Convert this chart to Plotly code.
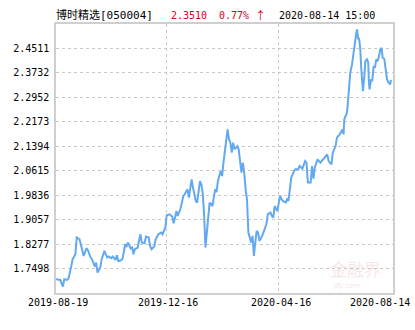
import plotly.graph_objects as go

# ---- data ----
day_idx = [0, 3, 5, 6, 8, 9, 11, 12, 14, 15, 17, 18, 19, 20, 22, 23, 25, 26, 28, 29, 30, 32, 33, 35, 37, 38, 40, 41,
           43, 44, 45, 46, 48, 49, 50, 51, 52, 54, 55, 56, 57, 59, 61, 62, 64, 65, 67, 68, 69, 71, 72, 74, 76, 77,
           79, 80, 82, 84, 85, 86, 87, 88, 90, 91, 92, 93, 95, 96, 97, 98, 99, 101, 102, 103, 104, 105, 106, 107,
           108, 109, 110, 111, 113, 114, 115, 116, 117, 119, 120, 121, 122, 123, 124, 125, 126, 127, 128, 129, 130,
           131, 132, 133, 134, 135, 136, 137, 138, 139, 140, 141, 142, 143, 144, 145, 146, 147, 149, 151, 152, 153,
           155, 156, 157, 158, 160, 161, 162, 163, 164, 166, 167, 168, 169, 170, 172, 173, 175, 176, 178, 180, 181,
           182, 184, 185, 186, 187, 189, 191, 193, 195, 196, 197, 198, 199, 200, 202, 203, 204, 205, 207, 207.8,
           208.3, 209.2, 210.2, 210.7, 211.4, 212.1, 212.6, 213.9, 214.6, 215.6, 216.2, 217.0, 217.5, 217.9, 218.4,
           218.9, 219.8, 220.6, 221.1, 221.8, 222.8, 223.5, 224.7, 225.6, 226.1, 226.6, 227.6, 228.5, 229.5, 230.5,
           231.4, 232.4, 233.4, 234.3, 235.3, 236.0, 237.2, 238.1, 239.2, 240.3, 241.5, 242.0]
nav = [1.7158, 1.7136, 1.6926, 1.7158, 1.7136, 1.7180, 1.7562, 1.7795, 1.7954, 1.8486, 1.8431, 1.8272, 1.8059,
       1.7900, 1.8145, 1.8091, 1.7849, 1.7795, 1.7562, 1.7690, 1.7371, 1.7531, 1.7795, 1.8059, 1.7849, 1.7881,
       1.7827, 1.7881, 1.7773, 1.7922, 1.7741, 1.7741, 1.7795, 1.8059, 1.8272, 1.8218, 1.8326, 1.8135, 1.8167,
       1.7954, 1.8113, 1.8167, 1.8591, 1.8326, 1.8304, 1.8517, 1.8486, 1.8218, 1.8113, 1.8199, 1.8431, 1.8591,
       1.8645, 1.8591, 1.8804, 1.9195, 1.9227, 1.9154, 1.8941, 1.9122, 1.9332, 1.9173, 1.9409, 1.9600, 1.9810,
       1.9864, 2.0023, 1.9759, 2.0150, 2.0341, 2.0077, 1.9651, 1.9600, 2.0023, 2.0287, 2.0182, 1.9918, 1.9227,
       1.8167, 1.8645, 1.9227, 1.9600, 1.9491, 1.9705, 2.0023, 1.9937, 2.0287, 2.0605, 2.0446, 2.0873, 2.1191,
       2.1455, 2.1933, 2.1614, 2.1509, 2.1191, 2.1509, 2.1296, 2.1350, 2.1401, 2.1296, 2.0924, 2.0554, 2.0873,
       2.0554, 2.0023, 1.9705, 1.8645, 1.8431, 1.8326, 1.8537, 1.7900, 1.8326, 1.8696, 1.8645, 1.8377, 1.8537,
       1.8804, 1.8909, 1.9227, 1.9281, 1.9173, 1.9122, 1.9491, 1.9332, 1.9600, 1.9810, 1.9705, 1.9651, 1.9600,
       1.9705, 1.9651, 2.0023, 2.0395, 2.0605, 2.0660, 2.0660, 2.0765, 2.0682, 2.0924, 2.0873, 2.0236, 2.0236,
       2.0765, 2.0364, 2.0714, 2.0978, 2.0873, 2.0978, 2.1083, 2.1137, 2.0924, 2.0873, 2.0819, 2.1191, 2.1401,
       2.1669, 2.1719, 2.1774, 2.1933, 2.1774, 2.2251, 2.2356, 2.2464, 2.2674, 2.2993, 2.3419, 2.3738, 2.4002,
       2.4266, 2.4638, 2.4903, 2.5011, 2.5116, 2.4957, 2.4798, 2.4852, 2.4533, 2.3843, 2.3419, 2.3152, 2.3629,
       2.4107, 2.4161, 2.4056, 2.3419, 2.3206, 2.3524, 2.3470, 2.3948, 2.3897, 2.4161, 2.4107, 2.4266, 2.4479,
       2.4533, 2.4215, 2.4183, 2.3843, 2.3524, 2.3419, 2.3365, 2.3510]

y_ticks = [1.7498, 1.8277, 1.9057, 1.9836, 2.0615, 2.1394, 2.2173, 2.2952, 2.3732, 2.4511]
y_range = [1.6719, 2.5290]
x_tick_pos = [0, 79.6, 160.8, 243.5]
x_tick_labels = ["2019-08-19", "2019-12-16", "2020-04-16", "2020-08-14"]
x_range = [0, 243.5]

fund_name = "博时精选[050004]"
last_nav = "2.3510"
change = "0.77%"
arrow = "↑"
timestamp = "2020-08-14 15:00"

FONT = "DejaVu Sans Mono, Noto Sans CJK SC, monospace"
GRID = "#c8c8c8"
RED = "#d0021b"

fig = go.Figure()
fig.add_trace(go.Scatter(x=day_idx, y=nav, mode="lines",
                         line=dict(color="#62a9f1", width=2), hoverinfo="skip"))

W, H = 415, 330
L, R, T, B = 56, 22, 24, 37
pw, ph = W - L - R, H - T - B

fig.update_layout(
    width=W, height=H, margin=dict(l=L, r=R, t=T, b=B),
    paper_bgcolor="white", plot_bgcolor="white", showlegend=False,
    font=dict(family=FONT, size=10, color="#000"),
    xaxis=dict(range=x_range, tickvals=x_tick_pos, showticklabels=False, ticks="",
               showgrid=True, gridcolor=GRID, griddash="3px,3px", gridwidth=1,
               showline=True, mirror=True, linecolor="#cfcfcf", linewidth=1.5, zeroline=False),
    yaxis=dict(range=y_range, tickvals=y_ticks, ticktext=[f"{v:.4f}" for v in y_ticks],
               ticks="", showgrid=True, gridcolor=GRID, griddash="3px,3px", gridwidth=1,
               showline=True, mirror=True, linecolor="#cfcfcf", linewidth=1.5, zeroline=False,
               tickfont=dict(family=FONT, size=10, color="#000"), ticklabelstandoff=3),
)

def px_to_paper_x(p):
    return (p - L) / pw

def px_to_paper_y(p):
    return 1 - (p - T) / ph

def label(text, px, py, size=10, color="#000", family=FONT, anchor="left"):
    return dict(text=text, x=px_to_paper_x(px), y=px_to_paper_y(py), xref="paper", yref="paper",
                xanchor=anchor, yanchor="middle", showarrow=False,
                font=dict(family=family, size=size, color=color))

ann = [
    label(fund_name, 54, 15.7, size=11),
    label(last_nav, 168.5, 15.7, color=RED),
    label(change, 216.5, 15.7, color=RED),
    label(arrow, 252.5, 15.5, size=11, color=RED, family="Noto Sans CJK SC"),
    label(timestamp, 277, 15.7),
]
# x labels
for i, (pos, lab) in enumerate(zip(x_tick_pos, x_tick_labels)):
    last = i == len(x_tick_pos) - 1
    ann.append(dict(text=lab, x=pos, xref="x", y=px_to_paper_y(302.3), yref="paper",
                    xanchor="right" if last else "center", xshift=19 if last else 2, yanchor="middle",
                    showarrow=False, font=dict(family=FONT, size=10, color="#000")))
# watermark
ann.append(label("金融界", 328, 268, size=17, color="rgba(225,150,150,0.25)", family="Noto Sans CJK SC"))
ann.append(label("<i>JRJ.com</i>", 330, 286, size=7, color="rgba(225,150,150,0.3)", family="DejaVu Sans"))
fig.update_layout(annotations=ann)

fig.write_html("out.html")
